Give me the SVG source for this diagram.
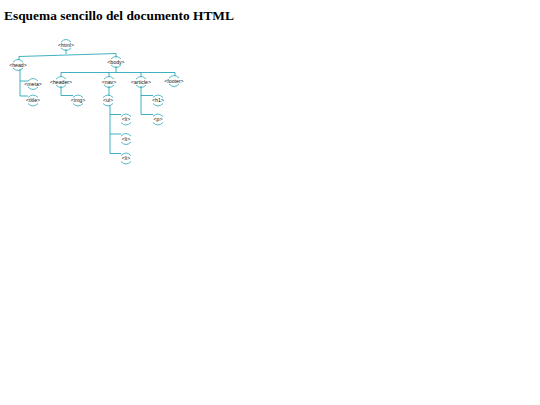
<svg xmlns="http://www.w3.org/2000/svg" width="540" height="405" viewBox="0 0 540 405">
<defs>
<style>
.t{font-family:"Liberation Serif","Times New Roman",serif;font-weight:bold;font-size:13.4px;fill:#000}
.n{font-family:"Liberation Sans",Arial,sans-serif;font-size:5.2px;fill:#111;text-anchor:middle}
.a{fill:none;stroke:#2aa8bb;stroke-width:0.8}
.c{fill:none;stroke:#2aa8bb;stroke-width:0.9}
</style>
</defs>
<rect width="540" height="405" fill="#fff"/>
<text class="t" x="4" y="20">Esquema sencillo del documento HTML</text>
<g id="connectors">
<path class="c" d="M66,49 V54"/>
<path class="c" d="M19,60 V56.5 L116,53.5 V57.5"/>
<path class="c" d="M20,69 V96 M20,81 H28 M20,96 H28"/>
<path class="c" d="M116,66 V72.5"/>
<path class="c" d="M61,77 V72.5 H175 V76 M109,72.5 V77 M141,72.5 V77"/>
<path class="c" d="M61,86 V95.5 H73"/>
<path class="c" d="M109,86 V96"/>
<path class="c" d="M110,105 V153.5 M110,114.5 H121 M110,134 H121 M110,153.5 H121"/>
<path class="c" d="M141,86 V114.5 M141,95.5 H153 M141,114.5 H153"/>
</g>
<g id="n-html"><path class="a" d="M61,42 Q66,37 71,42"/><text class="n" x="66" y="46.7">&lt;html&gt;</text><path class="a" d="M61,48 Q66,53 71,48"/></g>
<g id="n-head"><path class="a" d="M13,62 Q18,57 23,62"/><text class="n" x="18" y="66.7">&lt;head&gt;</text><path class="a" d="M13,68 Q18,73 23,68"/></g>
<g id="n-body"><path class="a" d="M111,59 Q116,54 121,59"/><text class="n" x="116" y="63.7">&lt;body&gt;</text><path class="a" d="M111,65 Q116,70 121,65"/></g>
<g id="n-meta"><path class="a" d="M28,81 Q33,76 38,81"/><text class="n" x="33" y="85.7">&lt;meta&gt;</text><path class="a" d="M28,87 Q33,92 38,87"/></g>
<g id="n-title"><path class="a" d="M28,97.5 Q33,92.5 38,97.5"/><text class="n" x="33" y="102.2">&lt;title&gt;</text><path class="a" d="M28,103.5 Q33,108.5 38,103.5"/></g>
<g id="n-header"><path class="a" d="M56,79 Q61,74 66,79"/><text class="n" x="61" y="83.7">&lt;header&gt;</text><path class="a" d="M56,85 Q61,90 66,85"/></g>
<g id="n-img"><path class="a" d="M73,97.5 Q78,92.5 83,97.5"/><text class="n" x="78" y="102.2">&lt;img&gt;</text><path class="a" d="M73,103.5 Q78,108.5 83,103.5"/></g>
<g id="n-nav"><path class="a" d="M104,79 Q109,74 114,79"/><text class="n" x="109" y="83.7">&lt;nav&gt;</text><path class="a" d="M104,85 Q109,90 114,85"/></g>
<g id="n-ul"><path class="a" d="M103,97.5 Q108,92.5 113,97.5"/><text class="n" x="108" y="102.2">&lt;ul&gt;</text><path class="a" d="M103,103.5 Q108,108.5 113,103.5"/></g>
<g id="n-article"><path class="a" d="M136,79 Q141,74 146,79"/><text class="n" x="141" y="83.7">&lt;article&gt;</text><path class="a" d="M136,85 Q141,90 146,85"/></g>
<g id="n-footer"><path class="a" d="M169,78 Q174,73 179,78"/><text class="n" x="174" y="82.7">&lt;footer&gt;</text><path class="a" d="M169,84 Q174,89 179,84"/></g>
<g id="n-h1"><path class="a" d="M153,97.5 Q158,92.5 163,97.5"/><text class="n" x="158" y="102.2">&lt;h1&gt;</text><path class="a" d="M153,103.5 Q158,108.5 163,103.5"/></g>
<g id="n-p"><path class="a" d="M153,116.5 Q158,111.5 163,116.5"/><text class="n" x="158" y="121.2">&lt;p&gt;</text><path class="a" d="M153,122.5 Q158,127.5 163,122.5"/></g>
<g id="n-li1"><path class="a" d="M121,116.5 Q126,111.5 131,116.5"/><text class="n" x="126" y="121.2">&lt;li&gt;</text><path class="a" d="M121,122.5 Q126,127.5 131,122.5"/></g>
<g id="n-li2"><path class="a" d="M121,136 Q126,131 131,136"/><text class="n" x="126" y="140.7">&lt;li&gt;</text><path class="a" d="M121,142 Q126,147 131,142"/></g>
<g id="n-li3"><path class="a" d="M121,155.5 Q126,150.5 131,155.5"/><text class="n" x="126" y="160.2">&lt;li&gt;</text><path class="a" d="M121,161.5 Q126,166.5 131,161.5"/></g>
</svg>
